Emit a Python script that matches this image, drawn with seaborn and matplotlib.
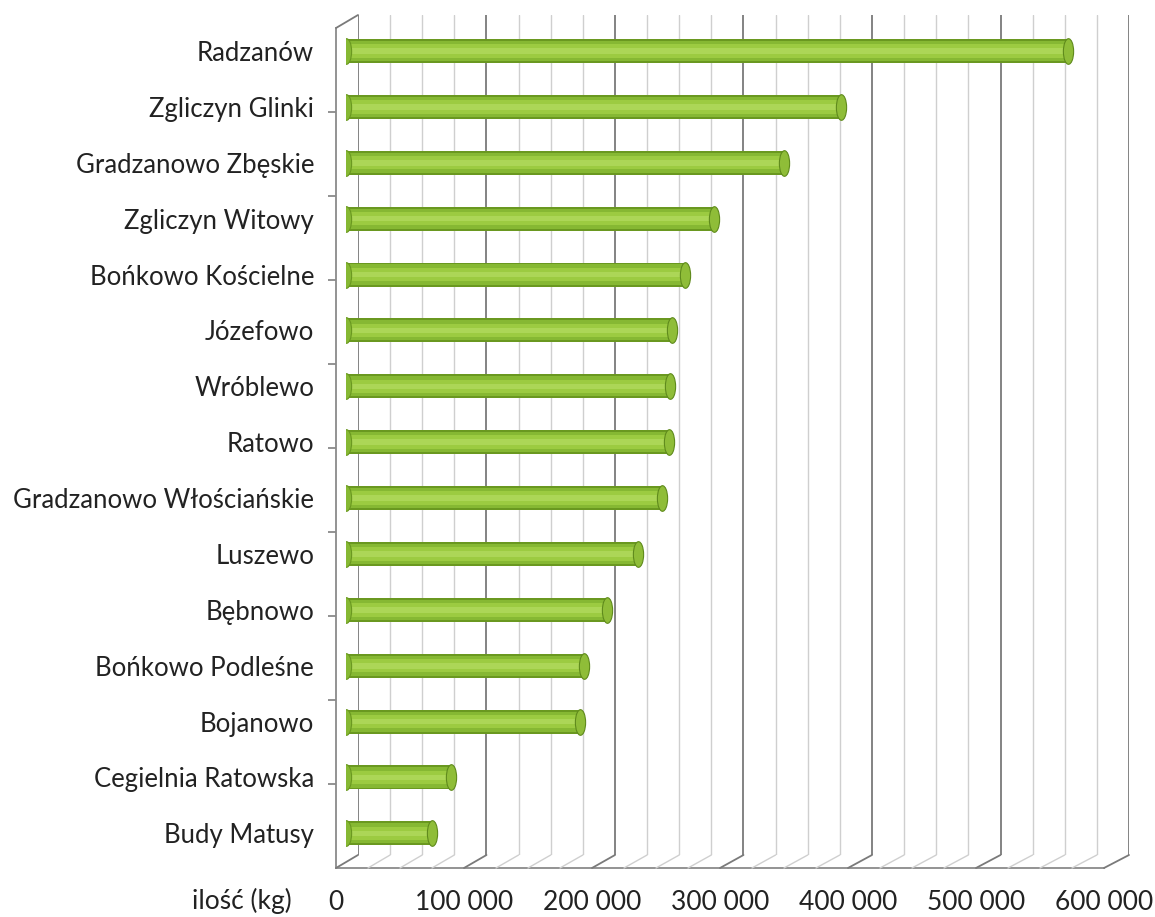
import numpy as np
import seaborn as sns
import matplotlib.pyplot as plt
from matplotlib.path import Path
from matplotlib.lines import Line2D

# villages and amounts (kg)
villages = ['Radzanów', 'Zgliczyn Glinki', 'Gradzanowo Zbęskie', 'Zgliczyn Witowy',
            'Bońkowo Kościelne', 'Józefowo', 'Wróblewo', 'Ratowo',
            'Gradzanowo Włościańskie', 'Luszewo', 'Bębnowo', 'Bońkowo Podleśne',
            'Bojanowo', 'Cegielnia Ratowska', 'Budy Matusy']
amounts = [562000, 385000, 341000, 286000, 264000, 254000, 252000, 251000,
           246000, 227000, 203000, 185000, 182000, 82000, 67000]
x_ticks = [0, 100000, 200000, 300000, 400000, 500000, 600000]
x_ticklabels = ['0', '100 000', '200 000', '300 000', '400 000', '500 000', '600 000']
x_label = 'ilość (kg)'

sns.set_style('white')
plt.rcParams['font.family'] = ['Lato', 'DejaVu Sans']

W, H = 1155, 917
fig = plt.figure(figsize=(W / 100, H / 100), dpi=100)


def px_axes(left, right, bottom, top):
    # axes rectangle given in pixel coords (y measured from top)
    return fig.add_axes([left / W, (H - bottom) / H, (right - left) / W, (bottom - top) / H])


# back wall with grid
ax_back = px_axes(358, 1129, 855, 15)
ax_back.set_xlim(0, 600000)
ax_back.set_ylim(0, 1)
for v in np.arange(0, 600001, 25000):
    major = v % 100000 == 0
    ax_back.axvline(v, color='#7a7a7a' if major else '#cfcfcf', lw=1.3 if major else 1.0)
ax_back.axis('off')

# front axis (ticks + labels)
ax_front = px_axes(336, 1104, 868, 28)
ax_front.set_xlim(0, 600000)
ax_front.set_ylim(0, 1)
ax_front.patch.set_alpha(0)
for s in ['top', 'right']:
    ax_front.spines[s].set_visible(False)
for s in ['left', 'bottom']:
    ax_front.spines[s].set_color('#8a8a8a')
    ax_front.spines[s].set_linewidth(1.3)
ax_front.set_xticks(x_ticks)
ax_front.set_xticklabels(x_ticklabels, fontsize=19, color='#222222')
ax_front.set_yticks(np.linspace(0, 1, 11)[1:-1])
ax_front.set_yticklabels([])
ax_front.tick_params(axis='x', direction='out', length=6, width=1.3, color='#8a8a8a', pad=10)
ax_front.tick_params(axis='y', direction='out', length=6, width=1.3, color='#8a8a8a', left=True)
ax_front.text(-0.058, -0.024, x_label, transform=ax_front.transAxes, ha='right', va='top',
              fontsize=19, color='#222222')

# bars, layered to look like cylinders
ax = px_axes(346, 1117, 868, 20)
ax.patch.set_alpha(0)
for col, wd in [('#6a9820', 0.43), ('#86b833', 0.36), ('#9ccb41', 0.24), ('#acd657', 0.10)]:
    sns.barplot(x=amounts, y=villages, orient='h', color=col, width=wd,
                saturation=1, linewidth=0, edgecolor='none', ax=ax)

# elliptical caps for the cylinder ends
circ = Path.unit_circle()
cap = Path(circ.vertices * np.array([0.40, 1.0]), circ.codes)
ypos = np.arange(len(villages))
ax.scatter(amounts, ypos, marker=cap, s=340, color='#8fbd38', edgecolor='#5f8a1c',
           linewidth=0.8, zorder=5)
ax.scatter(np.zeros(len(villages)), ypos, marker=cap, s=340, color='#86b833',
           edgecolor='#6a9820', linewidth=0.8, zorder=1)

ax.set_xlim(0, 600000)
ax.set_ylim(14.62, -0.555)
ax.set_xlabel('')
ax.set_ylabel('')
ax.set_xticks([])
sns.despine(ax=ax, left=True, bottom=True)
ax.tick_params(axis='y', length=0, pad=23, labelsize=18.5, labelcolor='#222222')

# floor depth lines and the corner edges
fig.canvas.draw()
inv = fig.transFigure.inverted()
for v in np.arange(0, 600001, 25000):
    p0 = inv.transform(ax_front.transData.transform((v, 0)))
    p1 = inv.transform(ax_back.transData.transform((v, 0)))
    major = v % 100000 == 0
    fig.add_artist(Line2D([p0[0], p1[0]], [p0[1], p1[1]],
                          color='#7a7a7a' if major else '#cfcfcf', lw=1.3 if major else 1.0))
p0 = inv.transform(ax_front.transData.transform((0, 1)))
p1 = inv.transform(ax_back.transData.transform((0, 1)))
fig.add_artist(Line2D([p0[0], p1[0]], [p0[1], p1[1]], color='#7a7a7a', lw=1.3))

fig.savefig('out.png', dpi=100)
